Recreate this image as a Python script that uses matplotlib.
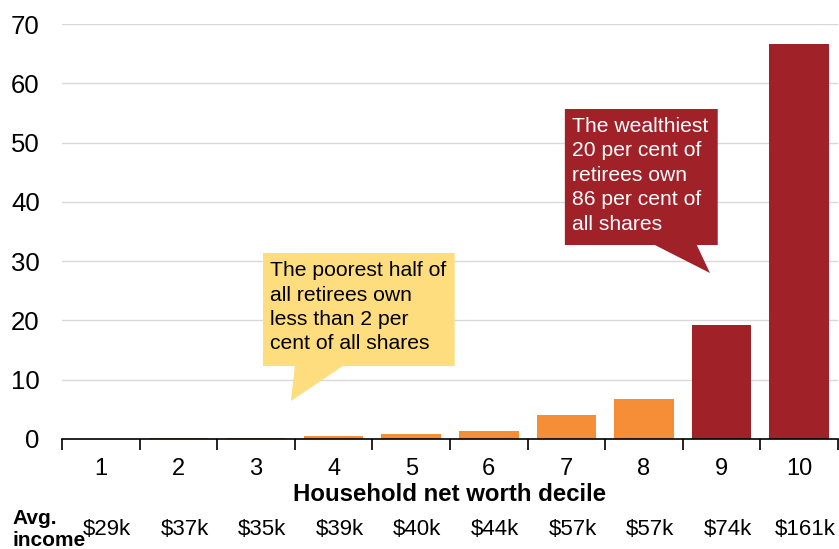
import matplotlib
matplotlib.use("Agg")
import matplotlib.pyplot as plt
from matplotlib.patches import Polygon

plt.rcParams['font.family'] = ['Liberation Sans', 'DejaVu Sans']

deciles = ['1', '2', '3', '4', '5', '6', '7', '8', '9', '10']
share = [0.03, 0.12, 0.25, 0.45, 0.85, 1.35, 4.05, 6.75, 19.2, 66.6]
income = ['$29k', '$37k', '$35k', '$39k', '$40k', '$44k', '$57k', '$57k', '$74k', '$161k']
highlight = [False] * 8 + [True] * 2

ORANGE = '#F68D37'
DARKRED = '#A02128'
YELLOW = '#FEDD7F'

fig = plt.figure(figsize=(8.39, 5.49), dpi=100)
ax = fig.add_axes([62/839, 1-439/549, (838-62)/839, (439-24)/549])

x = list(range(len(deciles)))
colors = [DARKRED if h else ORANGE for h in highlight]
ax.bar(x, share, width=0.77, color=colors, zorder=3)

ax.set_xlim(-0.5, 9.5)
ax.set_ylim(0, 70)
ax.set_yticks(range(0, 71, 10))
ax.yaxis.grid(True, color='#D9D9D9', linewidth=1, zorder=0)
ax.set_axisbelow(True)
for s in ['left', 'right', 'top']:
    ax.spines[s].set_visible(False)
ax.spines['bottom'].set_color('black')
ax.spines['bottom'].set_linewidth(1.2)
ax.spines['bottom'].set_zorder(4)
ax.tick_params(axis='y', length=0, pad=16, labelsize=18.5)
ax.set_xticks(x)
ax.set_xticklabels(deciles)
ax.tick_params(axis='x', which='major', length=0, pad=14, labelsize=17)
ax.set_xticks([i - 0.5 for i in range(len(deciles) + 1)], minor=True)
ax.tick_params(axis='x', which='minor', length=8, width=1.2, direction='out')
ax.set_xlabel('Household net worth decile', fontsize=17.3, fontweight='bold', labelpad=2)

# Avg income row
for xi, lab in zip(x, income):
    ax.text(xi + 0.08, -15.2, lab, ha='center', va='center', fontsize=16, clip_on=False)
fig.text(12/839, 1-519/549, 'Avg.', fontsize=15, fontweight='bold', ha='left', va='center')
fig.text(12/839, 1-541/549, 'income', fontsize=15, fontweight='bold', ha='left', va='center')

# Yellow callout
ybox = [(2.09, 31.37), (4.56, 31.37), (4.56, 12.31), (3.12, 12.31), (2.45, 6.41),
        (2.50, 12.31), (2.09, 12.31)]
ax.add_patch(Polygon(ybox, closed=True, facecolor=YELLOW, edgecolor='none', zorder=5, clip_on=False))
ax.text(2.18, 30.0, 'The poorest half of\nall retirees own\nless than 2 per\ncent of all shares',
        fontsize=15.2, va='top', ha='left', linespacing=1.36, zorder=6, color='black')

# Red callout
rbox = [(5.98, 55.66), (7.95, 55.66), (7.95, 32.72), (7.68, 32.72), (7.85, 28.0),
        (7.14, 32.72), (5.98, 32.72)]
ax.add_patch(Polygon(rbox, closed=True, facecolor=DARKRED, edgecolor='none', zorder=5, clip_on=False))
ax.text(6.07, 54.3, 'The wealthiest\n20 per cent of\nretirees own\n86 per cent of\nall shares',
        fontsize=15.2, va='top', ha='left', linespacing=1.36, zorder=6, color='white')

fig.savefig('out.png', dpi=100)
